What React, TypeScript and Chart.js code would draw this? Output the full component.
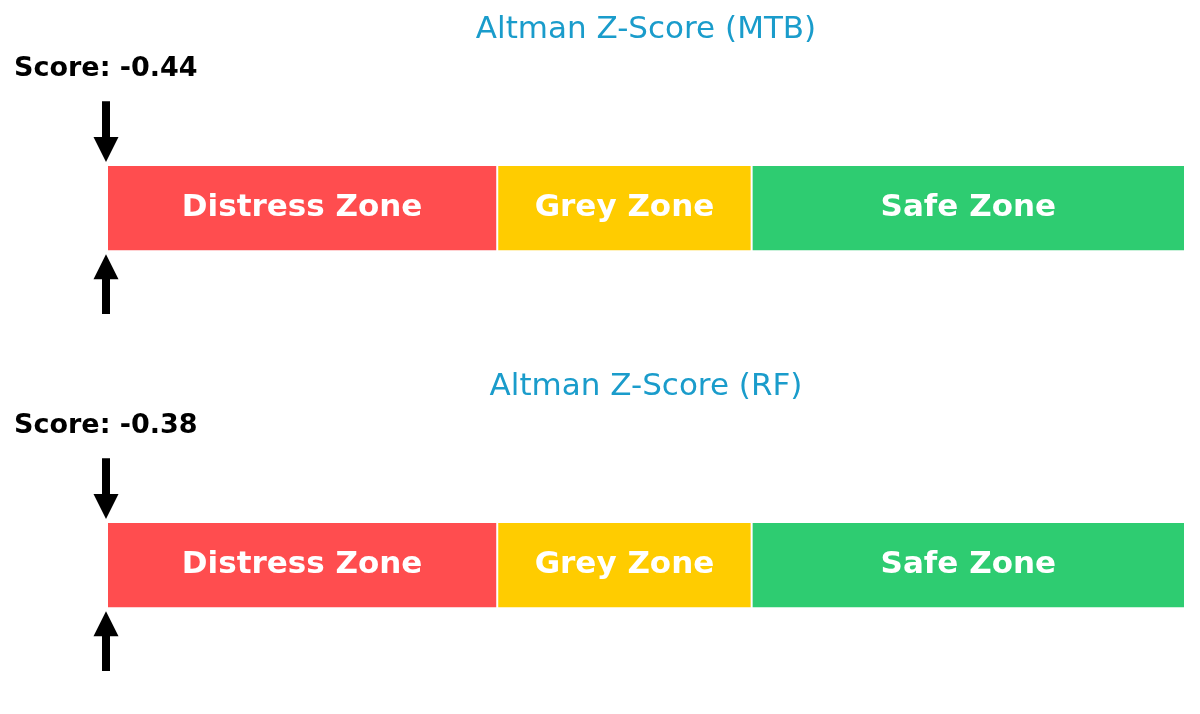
import { useEffect, useRef } from "react";
import { Chart, registerables } from "chart.js";

Chart.register(...registerables);

// Altman Z-Score gauges, one per company
const companies = ["MTB", "RF"];
const scores = [-0.44, -0.38];

const zoneNames = ["Distress Zone", "Grey Zone", "Safe Zone"];
const zoneStarts = [0, 1.81, 2.99];
const zoneEnds = [1.81, 2.99, 5];

const zoneColors = ["#ff4d4f", "#ffcc00", "#2ecc71"];
const titleColor = "#1a9ccb";
const FONT = "'DejaVu Sans', sans-serif";

const X_MIN = 0;
const X_MAX = 5;

function drawArrow(ctx: CanvasRenderingContext2D, x: number, from: number, to: number) {
  const dir = to > from ? 1 : -1;
  const head = 25;
  const halfHead = 12.5;
  const halfShaft = 4;
  const neck = to - dir * head;
  ctx.beginPath();
  ctx.moveTo(x - halfShaft, from);
  ctx.lineTo(x + halfShaft, from);
  ctx.lineTo(x + halfShaft, neck);
  ctx.lineTo(x + halfHead, neck);
  ctx.lineTo(x, to);
  ctx.lineTo(x - halfHead, neck);
  ctx.lineTo(x - halfShaft, neck);
  ctx.closePath();
  ctx.fillStyle = "#000";
  ctx.fill();
}

const gaugePlugin = {
  id: "gauge",
  afterDatasetsDraw(chart: any, _args: any, opts: any) {
    const { ctx, chartArea, scales } = chart;
    ctx.save();

    // zone labels in the middle of every segment
    ctx.font = `bold 31px ${FONT}`;
    ctx.fillStyle = "#ffffff";
    ctx.textAlign = "center";
    ctx.textBaseline = "middle";
    let barTop = 0;
    let barBottom = 0;
    chart.data.datasets.forEach((ds: any, i: number) => {
      const el = chart.getDatasetMeta(i).data[0] as any;
      if (!el) return;
      const cx = (el.x + el.base) / 2;
      barTop = el.y - el.height / 2;
      barBottom = el.y + el.height / 2;
      ctx.fillText(ds.label, cx, el.y);
    });

    // score marker (clamped to the scale)
    const score: number = opts.score;
    const v = Math.min(Math.max(score, X_MIN), X_MAX);
    const px = scales.x.getPixelForValue(v) - 1;
    drawArrow(ctx, px, chartArea.top + 1, barTop - 3);
    drawArrow(ctx, px, chartArea.bottom - 2, barBottom + 3);

    ctx.font = `bold 27px ${FONT}`;
    ctx.fillStyle = "#000";
    ctx.textAlign = "left";
    ctx.textBaseline = "alphabetic";
    ctx.fillText(`Score: ${score.toFixed(2)}`, 14, chartArea.top - 24);
    ctx.restore();
  },
};

function Gauge({ company, score }: { company: string; score: number }) {
  const canvasRef = useRef<HTMLCanvasElement | null>(null);

  useEffect(() => {
    if (!canvasRef.current) return;
    const chart = new Chart(canvasRef.current, {
      type: "bar",
      data: {
        labels: [company],
        datasets: zoneNames.map((name, i) => ({
          label: name,
          data: [[zoneStarts[i], zoneEnds[i]]] as any,
          backgroundColor: zoneColors[i],
          borderColor: "#ffffff",
          borderWidth: 1,
          borderSkipped: false,
          barPercentage: 0.4,
          categoryPercentage: 1,
          grouped: false,
        })),
      },
      options: {
        indexAxis: "y",
        animation: false,
        responsive: true,
        maintainAspectRatio: false,
        layout: { padding: { left: 107, right: 15, top: 0, bottom: 41 } },
        scales: {
          x: { min: X_MIN, max: X_MAX, display: false },
          y: { display: false },
        },
        plugins: {
          legend: { display: false },
          tooltip: { enabled: false },
          title: {
            display: true,
            text: `Altman Z-Score (${company})`,
            color: titleColor,
            fullSize: false,
            font: { size: 31, family: FONT, weight: "normal" },
            padding: { top: 11, bottom: 52 },
          },
          gauge: { score },
        } as any,
      },
      plugins: [gaugePlugin],
    });
    return () => chart.destroy();
  }, [company, score]);

  return (
    <div style={{ position: "relative", width: 1200, height: 357 }}>
      <canvas ref={canvasRef}></canvas>
    </div>
  );
}

export default function App() {
  return (
    <div style={{ width: 1200, height: 714, background: "#fff" }}>
      <style>{`body { margin: 0; }`}</style>
      {companies.map((c, i) => (
        <Gauge key={c} company={c} score={scores[i]} />
      ))}
    </div>
  );
}
